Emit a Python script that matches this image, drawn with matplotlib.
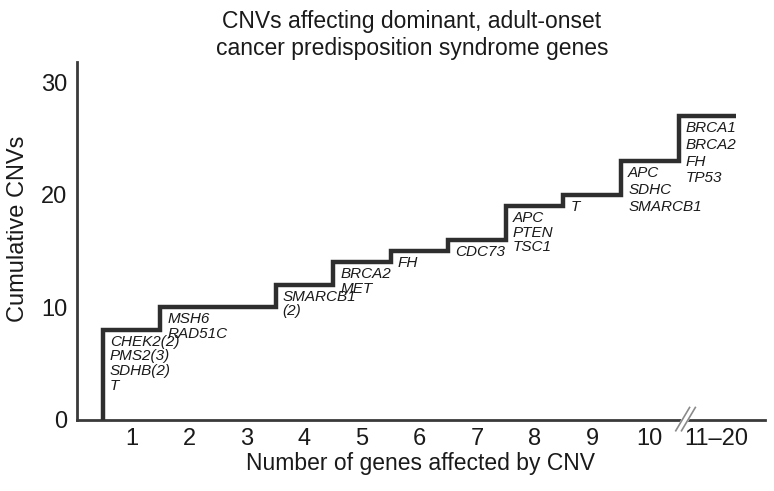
import matplotlib.pyplot as plt
import numpy as np

plt.rcParams['font.family'] = ['Liberation Sans', 'DejaVu Sans']

# Data: cumulative CNV counts by number of genes affected
categories = ['1', '2', '3', '4', '5', '6', '7', '8', '9', '10', '11\u201320']
cumulative = [8, 10, 10, 12, 14, 15, 16, 19, 20, 23, 27]
gene_labels = [
    'CHEK2(2)\nPMS2(3)\nSDHB(2)\nT',
    'MSH6\nRAD51C',
    '',
    'SMARCB1\n(2)',
    'BRCA2\nMET',
    'FH',
    'CDC73',
    'APC\nPTEN\nTSC1',
    'T',
    'APC\nSDHC\nSMARCB1',
    'BRCA1\nBRCA2\nFH\nTP53',
]

LINE = '#2e2e2e'
AXIS = '#3a3a3a'
TEXT = '#1a1a1a'

fig = plt.figure(figsize=(7.74, 4.91), dpi=100)
ax = fig.add_axes([77 / 774, 1 - 420 / 491, (765 - 77) / 774, (420 - 62) / 491])

pos = np.arange(1, len(categories) + 1)

# build the staircase from the counts
xs = [pos[0] - 0.5]
ys = [0]
for p, v in zip(pos, cumulative):
    xs += [p - 0.5, p + 0.5]
    ys += [v, v]
ax.plot(xs, ys, color=LINE, lw=3.2, solid_joinstyle='miter', solid_capstyle='butt',
        zorder=3)

# gene names under each step
for p, v, lab in zip(pos, cumulative, gene_labels):
    if not lab:
        continue
    ls = 1.25 if p >= 10 else 1.05
    ax.annotate(lab, xy=(p - 0.5, v), xytext=(7, -5), textcoords='offset pixels',
                ha='left', va='top', fontsize=11, style='italic', color=TEXT,
                linespacing=ls)

ax.set_xlim(0.05, 12.0)
ax.set_ylim(0, 31.8)
ax.set_yticks([0, 10, 20, 30])
# last group label sits a little right of its step, past the axis break
tick_pos = pos.astype(float)
tick_pos[-1] += 0.16
ax.set_xticks(tick_pos)
ax.set_xticklabels(categories)
ax.tick_params(axis='both', length=0, labelsize=17, colors=TEXT)
ax.tick_params(axis='x', pad=6)
ax.tick_params(axis='y', pad=7)

for side in ['top', 'right']:
    ax.spines[side].set_visible(False)
for side in ['left', 'bottom']:
    ax.spines[side].set_color(AXIS)
    ax.spines[side].set_linewidth(2)

ax.set_xlabel('Number of genes affected by CNV', fontsize=16.5, color=TEXT,
              labelpad=1)
ax.set_ylabel('Cumulative CNVs', fontsize=17, color=TEXT)
ax.yaxis.set_label_coords(-0.070, 0.535)
fig.text(412 / 774, 1 - 35 / 491,
         'CNVs affecting dominant, adult-onset\ncancer predisposition syndrome genes',
         ha='center', va='center', fontsize=16.5, color=TEXT, linespacing=1.2)

# axis break marks between 10 and 11-20
bx = 10.62
trans = ax.get_xaxis_transform()
ax.plot([bx - 0.12, bx + 0.12], [-0.03, 0.035], transform=trans, color='white',
        lw=5, clip_on=False, zorder=4)
for dx in (-0.05, 0.05):
    ax.plot([bx - 0.12 + dx, bx + 0.12 + dx], [-0.03, 0.035], transform=trans,
            color='#8a8a8a', lw=1.2, clip_on=False, zorder=5)

fig.savefig('out.png', dpi=100)
